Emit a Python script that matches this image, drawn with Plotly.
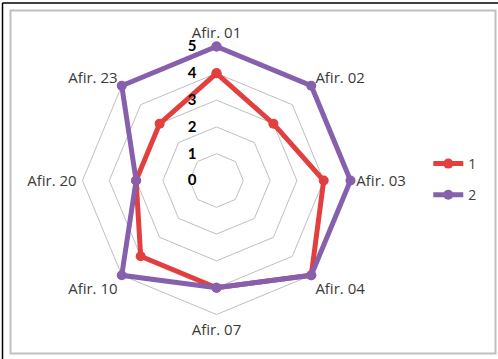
import plotly.graph_objects as go

categories = ["Afir. 01", "Afir. 02", "Afir. 03", "Afir. 04", "Afir. 07", "Afir. 10", "Afir. 20", "Afir. 23"]
series1 = [4, 3, 4, 5, 4, 4, 3, 3]
series2 = [5, 5, 5, 5, 4, 5, 3, 5]
names = ["1", "2"]
colors = ["#E2403F", "#8660AD"]
radial_ticks = [0, 1, 2, 3, 4, 5]

W, H = 498, 359
cx, cy, R5 = 216.5, 180.5, 134
RMAX = 5.2
R = R5 * RMAX / 5

pad = "<span style='color:rgba(0,0,0,0)'>00</span>"
radial_text = [f"{v}{pad}" for v in radial_ticks]

fig = go.Figure()
for name, vals, col in [(names[0], series1, colors[0]), (names[1], series2, colors[1])]:
    fig.add_trace(go.Scatterpolar(
        r=vals + vals[:1], theta=categories + categories[:1],
        mode="lines+markers", name=name, legendgroup=name, cliponaxis=False,
        line=dict(color=col, width=5), marker=dict(color=col, size=10),
    ))

fig.update_layout(
    width=W, height=H, margin=dict(l=0, r=0, t=0, b=0),
    paper_bgcolor="white", plot_bgcolor="white",
    font=dict(family="Open Sans, Lato, sans-serif", color="#404040", size=14),
    polar=dict(
        domain=dict(x=[(cx - R) / W, (cx + R) / W], y=[(H - cy - R) / H, (H - cy + R) / H]),
        gridshape="linear", bgcolor="white",
        angularaxis=dict(rotation=90, direction="clockwise", showgrid=False, showline=False,
                         ticks="", tickfont=dict(size=15, color="#3A3A3A")),
        radialaxis=dict(range=[0, RMAX], tickvals=radial_ticks, ticktext=radial_text,
                        angle=90, tickangle=90, showline=False,
                        ticks="", gridcolor="#BFBFBF", gridwidth=1, side="counterclockwise",
                        tickfont=dict(size=15, color="#000000", family="Lato, sans-serif", weight="bold")),
    ),
    legend=dict(x=0.86, y=0.5, xanchor="left", yanchor="middle", tracegroupgap=10,
                font=dict(size=14, color="#404040"), bgcolor="rgba(0,0,0,0)"),
    shapes=[
        dict(type="rect", xref="paper", yref="paper", x0=10.5 / W, x1=495.5 / W,
             y0=1 - 353.5 / H, y1=1 - 10.5 / H, line=dict(color="#BFBFBF", width=2)),
        dict(type="line", xref="paper", yref="paper", x0=2.5 / W, x1=2.5 / W, y0=0, y1=1 - 3 / H,
             line=dict(color="black", width=1.5)),
        dict(type="line", xref="paper", yref="paper", x0=2.5 / W, x1=1, y0=1 - 3 / H, y1=1 - 3 / H,
             line=dict(color="black", width=1.5)),
    ],
)

fig.write_html("out.html")
